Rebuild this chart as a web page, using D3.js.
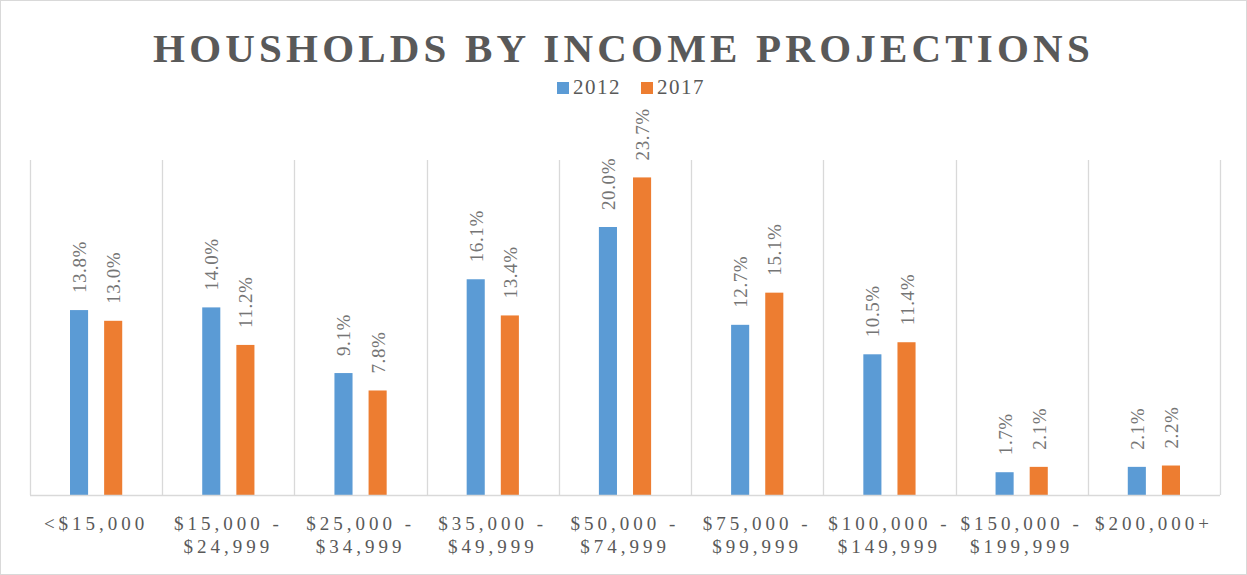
<!DOCTYPE html>
<html>
<head>
<meta charset="utf-8">
<script src="https://cdn.jsdelivr.net/npm/d3@7"></script>
<style>
  body { margin: 0; background: #fff; }
  text { font-family: "Liberation Serif", "Times New Roman", serif; fill: #595959; }
</style>
</head>
<body>
<div id="chart"></div>
<script>
// Data
const categories = ["<$15,000", "$15,000 - $24,999", "$25,000 - $34,999", "$35,000 - $49,999",
    "$50,000 - $74,999", "$75,000 - $99,999", "$100,000 - $149,999", "$150,000 - $199,999", "$200,000+"];
const tickLines = [["<$15,000"], ["$15,000 -", "$24,999"], ["$25,000 -", "$34,999"], ["$35,000 -", "$49,999"],
    ["$50,000 -", "$74,999"], ["$75,000 -", "$99,999"], ["$100,000 -", "$149,999"], ["$150,000 -", "$199,999"], ["$200,000+"]];
const seriesNames = ["2012", "2017"];
const values2012 = [13.8, 14.0, 9.1, 16.1, 20.0, 12.7, 10.5, 1.7, 2.1];
const values2017 = [13.0, 11.2, 7.8, 13.4, 23.7, 15.1, 11.4, 2.1, 2.2];
const colors = ["#5B9BD5", "#ED7D31"];

const W = 1247, H = 575;
const margin = {top: 160, right: 27, bottom: 80, left: 30};
const width = W - margin.left - margin.right;
const height = H - margin.top - margin.bottom;

const svg = d3.select("#chart")
    .append("svg")
    .attr("width", W)
    .attr("height", H);

// Outer border
svg.append("rect")
    .attr("x", 0.5).attr("y", 0.5)
    .attr("width", W - 1).attr("height", H - 1)
    .attr("fill", "#fff")
    .attr("stroke", "#d9d9d9");

// Title
svg.append("text")
    .attr("x", W / 2)
    .attr("y", 62)
    .attr("text-anchor", "middle")
    .style("font-size", "41px")
    .style("font-weight", "bold")
    .style("letter-spacing", "4.2px")
    .text("HOUSHOLDS BY INCOME PROJECTIONS");

// Legend
const legend = svg.selectAll(".legend")
    .data(seriesNames)
    .enter()
    .append("g")
    .attr("class", "legend")
    .attr("transform", (d, i) => `translate(${557 + i * 84},82)`);

legend.append("rect")
    .attr("width", 12).attr("height", 12)
    .attr("fill", (d, i) => colors[i]);

legend.append("text")
    .attr("x", 16)
    .attr("y", 12)
    .style("font-size", "21px")
    .style("letter-spacing", "1.5px")
    .text(d => d);

const g = svg.append("g")
    .attr("transform", `translate(${margin.left},${margin.top})`);

// Scales
const x = d3.scaleBand()
    .domain(categories)
    .range([0, width]);

const x1 = d3.scaleBand()
    .domain(seriesNames)
    .range([40, x.bandwidth() - 40])
    .paddingInner(0.47);

const y = d3.scaleLinear()
    .domain([0, 25])
    .range([height, 0]);

// Vertical gridlines at category boundaries
const bounds = categories.map(c => x(c)).concat([width]);
g.selectAll(".grid")
    .data(bounds)
    .enter()
    .append("line")
    .attr("x1", d => Math.round(d) + 0.5)
    .attr("x2", d => Math.round(d) + 0.5)
    .attr("y1", 0)
    .attr("y2", height)
    .attr("stroke", "#d9d9d9")
    .attr("stroke-width", 1.3);

// Bars
const rows = categories.map((c, i) => ({cat: c, vals: [values2012[i], values2017[i]]}));
const groups = g.selectAll(".cat")
    .data(rows)
    .enter()
    .append("g")
    .attr("transform", d => `translate(${x(d.cat)},0)`);

groups.selectAll("rect")
    .data(d => d.vals.map((v, i) => ({series: seriesNames[i], v: v, i: i})))
    .enter()
    .append("rect")
    .attr("x", d => x1(d.series))
    .attr("y", d => y(d.v))
    .attr("width", x1.bandwidth())
    .attr("height", d => height - y(d.v))
    .attr("fill", d => colors[d.i]);

// Data labels (rotated)
groups.selectAll(".lbl")
    .data(d => d.vals.map((v, i) => ({series: seriesNames[i], v: v})))
    .enter()
    .append("text")
    .attr("transform", d => `translate(${x1(d.series) + x1.bandwidth() / 2 + 7},${y(d.v) - 17}) rotate(-90)`)
    .style("font-size", "19px")
    .style("letter-spacing", "0.6px")
    .style("fill", "#757575")
    .text(d => d.v.toFixed(1) + "%");

// Baseline
g.append("line")
    .attr("x1", 0).attr("x2", width)
    .attr("y1", height + 0.5).attr("y2", height + 0.5)
    .attr("stroke", "#d9d9d9")
    .attr("stroke-width", 1.5);

// Category tick labels
const ticks = g.selectAll(".tick-label")
    .data(categories)
    .enter()
    .append("text")
    .attr("x", d => x(d) + x.bandwidth() / 2)
    .attr("y", height + 35)
    .attr("text-anchor", "middle")
    .style("font-size", "19px")
    .style("letter-spacing", "4px");

ticks.selectAll("tspan")
    .data((d, i) => tickLines[i])
    .enter()
    .append("tspan")
    .attr("x", function() { return d3.select(this.parentNode).attr("x"); })
    .attr("dy", (d, i) => i === 0 ? 0 : 23)
    .text(d => d);
</script>
</body>
</html>
